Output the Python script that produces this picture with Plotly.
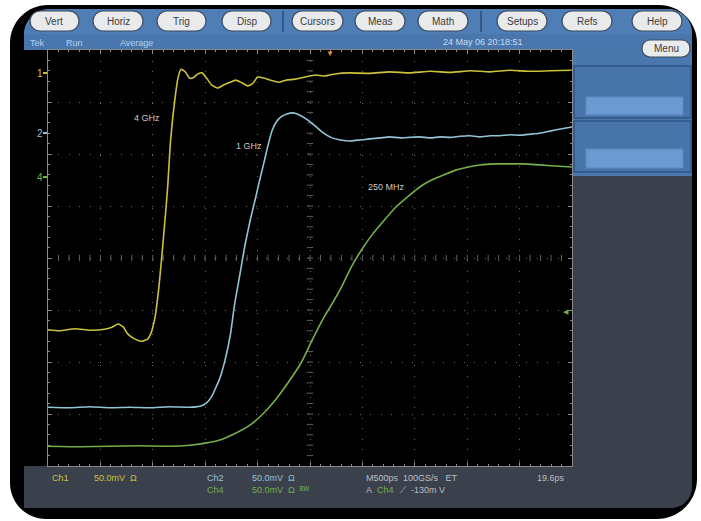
import plotly.graph_objects as go

W, H = 701, 521

# ---------------- data (time in ns, amplitude in divisions) ----------------
t_ch1 = [0.00, 0.11, 0.26, 0.40, 0.54, 0.61, 0.67, 0.72, 0.76, 0.83, 0.90, 0.95, 0.98, 1.02,
         1.06, 1.10, 1.14, 1.17, 1.21, 1.24, 1.27, 1.31, 1.35, 1.38, 1.43, 1.47, 1.52, 1.56,
         1.62, 1.68, 1.74, 1.79, 1.85, 1.91, 1.96, 2.00, 2.06, 2.12, 2.20, 2.27, 2.36, 2.45,
         2.55, 2.64, 2.74, 2.88, 3.07, 3.26, 3.45, 3.65, 3.84, 4.03, 4.22, 4.41, 4.60, 4.79, 5.00]
v_ch1 = [-1.38, -1.40, -1.36, -1.39, -1.37, -1.33, -1.27, -1.33, -1.46, -1.56, -1.60, -1.56,
         -1.46, -1.15, -0.52, 0.35, 1.31, 2.27, 3.04, 3.46, 3.63, 3.58, 3.46, 3.46, 3.54, 3.56,
         3.44, 3.33, 3.27, 3.33, 3.38, 3.42, 3.37, 3.31, 3.37, 3.48, 3.46, 3.42, 3.38, 3.42,
         3.44, 3.48, 3.52, 3.50, 3.54, 3.56, 3.55, 3.58, 3.56, 3.59, 3.57, 3.60, 3.58, 3.61,
         3.59, 3.60, 3.61]

t_ch2 = [0.00, 0.21, 0.40, 0.59, 0.78, 0.97, 1.16, 1.35, 1.45, 1.51, 1.56, 1.60, 1.64, 1.69,
         1.74, 1.78, 1.83, 1.88, 1.93, 1.98, 2.02, 2.06, 2.10, 2.14, 2.18, 2.22, 2.28, 2.34,
         2.40, 2.48, 2.56, 2.63, 2.71, 2.79, 2.88, 2.98, 3.07, 3.17, 3.26, 3.36, 3.45, 3.55,
         3.65, 3.74, 3.84, 3.93, 4.03, 4.12, 4.22, 4.31, 4.41, 4.50, 4.60, 4.69, 4.79, 4.89, 5.00]
v_ch2 = [-2.87, -2.88, -2.86, -2.88, -2.87, -2.88, -2.86, -2.87, -2.85, -2.79, -2.67, -2.50,
         -2.31, -1.96, -1.48, -0.90, -0.33, 0.25, 0.73, 1.15, 1.50, 1.83, 2.17, 2.46, 2.62,
         2.71, 2.77, 2.79, 2.75, 2.65, 2.52, 2.40, 2.31, 2.27, 2.25, 2.27, 2.29, 2.31, 2.33,
         2.31, 2.32, 2.33, 2.31, 2.33, 2.32, 2.34, 2.35, 2.33, 2.35, 2.35, 2.37, 2.36, 2.38,
         2.40, 2.44, 2.48, 2.52]

t_ch4 = [0.00, 0.31, 0.59, 0.88, 1.16, 1.35, 1.50, 1.64, 1.78, 1.93, 2.04, 2.17, 2.29, 2.42,
         2.52, 2.63, 2.72, 2.81, 2.90, 2.99, 3.09, 3.21, 3.32, 3.44, 3.55, 3.66, 3.78, 3.89,
         4.01, 4.12, 4.27, 4.41, 4.55, 4.69, 4.84, 5.00]
v_ch4 = [-3.62, -3.63, -3.62, -3.61, -3.62, -3.60, -3.56, -3.50, -3.38, -3.21, -3.02, -2.73,
         -2.40, -2.00, -1.58, -1.15, -0.85, -0.52, -0.15, 0.15, 0.44, 0.73, 0.98, 1.19, 1.37,
         1.50, 1.60, 1.69, 1.75, 1.79, 1.81, 1.81, 1.81, 1.79, 1.77, 1.75]

trace_names = ["4 GHz", "1 GHz", "250 MHz"]
buttons = ["Vert", "Horiz", "Trig", "Disp", "Cursors", "Meas", "Math", "Setups", "Refs", "Help"]

# ---------------- styling ----------------
YEL, CYA, GRN = "#cbc23c", "#93c4d6", "#74b04a"
TOPBLUE, STRIPBLUE, PANELBLUE = "#4f7db5", "#4876ad", "#4a78ad"
DARK = "#3a404c"
FONT = "Liberation Sans, Arial, sans-serif"


def pp(x, y):
    return f"{x / W:.5f},{1 - y / H:.5f}"


def rr(x0, y0, x1, y1, r):
    tl, tr, br, bl = r
    k = 0.5523
    return (f"M{pp(x0 + tl, y0)} L{pp(x1 - tr, y0)} "
            f"C{pp(x1 - tr + k * tr, y0)} {pp(x1, y0 + tr - k * tr)} {pp(x1, y0 + tr)} "
            f"L{pp(x1, y1 - br)} "
            f"C{pp(x1, y1 - br + k * br)} {pp(x1 - br + k * br, y1)} {pp(x1 - br, y1)} "
            f"L{pp(x0 + bl, y1)} "
            f"C{pp(x0 + bl - k * bl, y1)} {pp(x0, y1 - bl + k * bl)} {pp(x0, y1 - bl)} "
            f"L{pp(x0, y0 + tl)} "
            f"C{pp(x0, y0 + tl - k * tl)} {pp(x0 + tl - k * tl, y0)} {pp(x0 + tl, y0)} Z")


shapes = []


def add_path(path, fill, line=None, lw=0):
    shapes.append(dict(type="path", path=path, xref="paper", yref="paper", layer="below",
                       fillcolor=fill, line=dict(color=line or fill, width=lw)))


def add_rect(x0, y0, x1, y1, fill, line=None, lw=0):
    shapes.append(dict(type="rect", xref="paper", yref="paper", layer="below",
                       x0=x0 / W, x1=x1 / W, y0=1 - y1 / H, y1=1 - y0 / H,
                       fillcolor=fill, line=dict(color=line or fill, width=lw)))


def add_line(x0, y0, x1, y1, color, lw=1):
    shapes.append(dict(type="line", xref="paper", yref="paper", layer="below",
                       x0=x0 / W, x1=x1 / W, y0=1 - y0 / H, y1=1 - y1 / H,
                       line=dict(color=color, width=lw)))


# outer bezel
add_path(rr(10, 5, 697, 519, (38, 38, 40, 36)), "#000000")
# inner dark body
add_path(rr(24, 9, 692, 508, (26, 24, 21, 0)), DARK)
# top button bar + status strip
add_path(rr(24, 9, 692, 34, (26, 24, 0, 0)), TOPBLUE)
add_rect(24, 34, 692, 50, STRIPBLUE)
# right panel
add_rect(572, 50, 692, 176, PANELBLUE)
add_rect(574, 66, 691, 118, "#4774a9", "#2f5585", 1.5)
add_rect(586, 97, 683, 115, "#6b9ad2", "#5a88c0", 1)
add_rect(574, 121, 691, 172, "#4774a9", "#2f5585", 1.5)
add_rect(586, 149, 683, 168, "#6b9ad2", "#5a88c0", 1)
# black display area
add_rect(24, 50, 572, 466, "#000000")

# buttons
btn_x = [(30, 79), (93, 143), (157, 206), (222, 271), (292, 343), (355, 405),
         (418, 468), (497, 547), (562, 612), (632, 682)]
annotations = []
for name, (bx0, bx1) in zip(buttons, btn_x):
    add_path(rr(bx0, 11, bx1, 31, (10, 10, 10, 10)), "#e9eaec", "#3c4a5c", 1.2)
    annotations.append(dict(x=(bx0 + bx1) / 2 / W, y=1 - 21 / H, text=name, showarrow=False,
                            xref="paper", yref="paper", xanchor="center", yanchor="middle",
                            font=dict(size=10, color="#3a3a3a", family=FONT)))
add_path(rr(642, 40, 690, 57, (8, 8, 8, 8)), "#e9eaec", "#3c4a5c", 1.2)
annotations.append(dict(x=666 / W, y=1 - 48.5 / H, text="Menu", showarrow=False, xref="paper",
                        yref="paper", xanchor="center", yanchor="middle",
                        font=dict(size=10, color="#3a3a3a", family=FONT)))
add_line(283, 11, 283, 32, "#2d4c78", 1.5)
add_line(481, 11, 481, 32, "#2d4c78", 1.5)


def txt(x, y, s, color, size=9, anchor="left"):
    annotations.append(dict(x=x / W, y=1 - y / H, text=s, showarrow=False, xref="paper",
                            yref="paper", xanchor=anchor, yanchor="middle",
                            font=dict(size=size, color=color, family=FONT)))


# status strip
txt(28, 43, "Tek", "#b9d0ec")
txt(64, 43, "Run", "#b9d0ec")
txt(118, 43, "Average", "#b9d0ec")
txt(441, 42, "24 May 06 20:18:51", "#c9dcf2")

# waveform labels
txt(147, 118, trace_names[0], "#c9c9c9", 9, "center")
txt(249, 146, trace_names[1], "#c9c9c9", 9, "center")
txt(386, 187, trace_names[2], "#c9c9c9", 9, "center")

# channel ground markers
txt(40, 73, "1", YEL, 10, "center")
add_line(43, 73, 48, 73, YEL, 2)
txt(40, 133, "2", CYA, 10, "center")
add_line(43, 133, 48, 133, CYA, 2)
txt(40, 177, "4", GRN, 10, "center")
add_line(43, 177, 48, 177, GRN, 2)

# trigger markers
txt(330, 53, "▼", "#e69a2a", 8, "center")
txt(566, 311, "◀", GRN, 7, "center")

# bottom readout
txt(50, 478, "Ch1", YEL)
txt(92, 478, "50.0mV  Ω", YEL)
txt(205, 478, "Ch2", CYA)
txt(250, 478, "50.0mV  Ω", CYA)
txt(205, 490, "Ch4", GRN)
txt(250, 490, "50.0mV  Ω  ᴮᵂ", GRN)
txt(364, 478, "M500ps  100GS/s   ET", "#b8bec8")
txt(364, 490, "A", "#b8bec8")
txt(375, 490, "Ch4", GRN)
txt(398, 490, "⟋  -130m V", "#b8bec8")
txt(535, 478, "19.6ps", "#b8bec8")

# center-cross tick marks (graticule decoration)
seg = []
for i in range(1, 40):
    yv = -4 + i * 0.2
    seg.append(f"M2.47,{yv:.2f} L2.53,{yv:.2f}")
for i in range(1, 50):
    xv = i * 0.1
    seg.append(f"M{xv:.2f},-0.06 L{xv:.2f},0.06")
shapes.append(dict(type="path", path=" ".join(seg), xref="x", yref="y", layer="below",
                   line=dict(color="#5e5e5e", width=1)))

fig = go.Figure()
for t, v, c in [(t_ch1, v_ch1, YEL), (t_ch2, v_ch2, CYA), (t_ch4, v_ch4, GRN)]:
    fig.add_trace(go.Scatter(x=t, y=v, mode="lines", line=dict(color=c, width=1.6, shape="spline",
                                                                smoothing=0.5),
                             hoverinfo="skip", showlegend=False))

axis_common = dict(showticklabels=False, showline=True, linecolor="#8a8a8a", linewidth=1,
                   mirror="ticks", ticks="inside", ticklen=4, tickcolor="#8a8a8a",
                   showgrid=True, gridcolor="#6a6a6a", gridwidth=1, zeroline=False,
                   fixedrange=True)

fig.update_layout(
    width=W, height=H, margin=dict(l=0, r=0, t=0, b=0),
    paper_bgcolor="#ffffff", plot_bgcolor="rgba(0,0,0,0)",
    xaxis=dict(domain=[48 / W, 572 / W], range=[0, 5], dtick=0.5, tick0=0,
               griddash="1px,9.5px",
               minor=dict(dtick=0.1, ticks="inside", ticklen=2, tickcolor="#8a8a8a", showgrid=False),
               **axis_common),
    yaxis=dict(domain=[1 - 466 / H, 1 - 50 / H], range=[-4, 4], dtick=1, tick0=0,
               griddash="1px,9.4px",
               minor=dict(dtick=0.2, ticks="inside", ticklen=2, tickcolor="#8a8a8a", showgrid=False),
               **axis_common),
    shapes=shapes, annotations=annotations, hovermode=False,
)

fig.write_html("out.html", config=dict(displayModeBar=False, staticPlot=True),
               post_script="document.body.style.margin='0';document.body.style.overflow='hidden';")
